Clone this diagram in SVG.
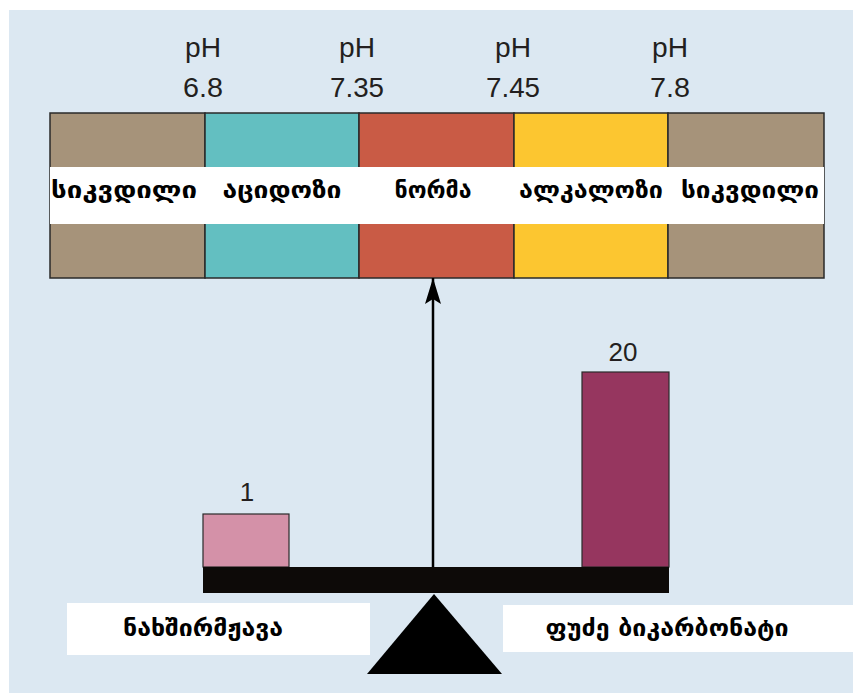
<svg xmlns="http://www.w3.org/2000/svg" width="853" height="693" viewBox="0 0 853 693">
<style>
.ph{font-family:"Liberation Sans",Arial,sans-serif;font-size:28px;fill:#231f20;text-anchor:middle}
.geo{font-family:"DejaVu Sans",sans-serif;font-weight:bold;font-size:23px;fill:#000;text-anchor:middle}
.seg{stroke:#2a2a2a;stroke-width:1.5}
.num{font-family:"Liberation Sans",Arial,sans-serif;font-size:26px;fill:#231f20;text-anchor:middle}
</style>
<defs>
<marker id="ah" markerWidth="26" markerHeight="18" refX="26" refY="9" orient="auto" markerUnits="userSpaceOnUse" viewBox="0 0 26 18">
<path d="M26,9 L0,1 L5,9 L0,17 Z" fill="#000"/>
</marker>
</defs>
<rect x="0" y="0" width="853" height="693" fill="#ffffff"/>
<rect x="9" y="10" width="844" height="683" fill="#dce8f2"/>

<g id="labels">
<text class="ph" x="203" y="57" textLength="36" lengthAdjust="spacingAndGlyphs">pH</text>
<text class="ph" x="203" y="97" textLength="40" lengthAdjust="spacingAndGlyphs">6.8</text>
<text class="ph" x="357" y="57" textLength="36" lengthAdjust="spacingAndGlyphs">pH</text>
<text class="ph" x="357" y="97" textLength="54" lengthAdjust="spacingAndGlyphs">7.35</text>
<text class="ph" x="513" y="57" textLength="36" lengthAdjust="spacingAndGlyphs">pH</text>
<text class="ph" x="513" y="97" textLength="54" lengthAdjust="spacingAndGlyphs">7.45</text>
<text class="ph" x="670" y="57" textLength="36" lengthAdjust="spacingAndGlyphs">pH</text>
<text class="ph" x="670" y="97" textLength="40" lengthAdjust="spacingAndGlyphs">7.8</text>
</g>

<g id="scale-bar">
<rect class="seg" x="50" y="113" width="155" height="165" fill="#a6937a"/>
<rect class="seg" x="205" y="113" width="154" height="165" fill="#63bfc1"/>
<rect class="seg" x="359" y="113" width="155" height="165" fill="#c95b45"/>
<rect class="seg" x="514" y="113" width="154" height="165" fill="#fcc630"/>
<rect class="seg" x="668" y="113" width="156" height="165" fill="#a6937a"/>
<rect x="50" y="167" width="774" height="57" fill="#ffffff"/>
<text class="geo" x="124" y="198" textLength="146" lengthAdjust="spacingAndGlyphs">სიკვდილი</text>
<text class="geo" x="282" y="198" textLength="119" lengthAdjust="spacingAndGlyphs">აციდოზი</text>
<text class="geo" x="433" y="198" textLength="77" lengthAdjust="spacingAndGlyphs">ნორმა</text>
<text class="geo" x="591" y="198" textLength="144" lengthAdjust="spacingAndGlyphs">ალკალოზი</text>
<text class="geo" x="750" y="198" textLength="138" lengthAdjust="spacingAndGlyphs">სიკვდილი</text>
</g>

<g id="connectors">
<line x1="433" y1="568" x2="433" y2="278" stroke="#000" stroke-width="2.5" marker-end="url(#ah)"/>
</g>

<g id="acid">
<rect x="203" y="514" width="86" height="53" fill="#d491a8" stroke="#2a2a2a" stroke-width="1.2"/>
<text class="num" x="247" y="501">1</text>
</g>

<g id="bicarb">
<rect x="582" y="372" width="87" height="195" fill="#96365f" stroke="#2a2a2a" stroke-width="1.2"/>
<text class="num" x="623" y="361">20</text>
</g>

<g id="beam">
<rect x="203" y="567" width="466" height="26" fill="#0d0a08"/>
</g>

<g id="fulcrum">
<polygon points="434,594 367,674 502,674" fill="#000"/>
</g>

<g id="acid-label">
<rect x="67" y="603" width="303" height="52" fill="#ffffff"/>
<text class="geo" x="203" y="636" textLength="160" lengthAdjust="spacingAndGlyphs">ნახშირმჟავა</text>
</g>

<g id="bicarb-label">
<rect x="503" y="605" width="350" height="47" fill="#ffffff"/>
<text class="geo" x="667" y="636" textLength="243" lengthAdjust="spacingAndGlyphs">ფუძე ბიკარბონატი</text>
</g>
</svg>
